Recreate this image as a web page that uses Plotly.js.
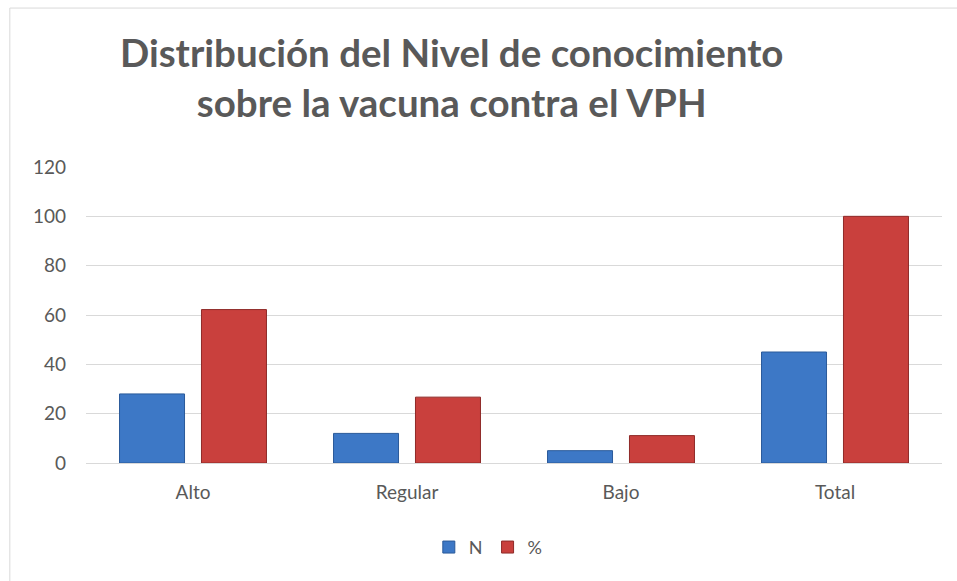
<!DOCTYPE html>
<html><head><meta charset="utf-8">
<script src="https://cdn.plot.ly/plotly-3.0.1.min.js"></script>
<style>html,body{margin:0;padding:0;background:#fff}#chart{width:957px;height:581px}</style>
</head><body><div id="chart"></div>
<script>
const categories = ["Alto", "Regular", "Bajo", "Total"];
const seriesN = [28, 12, 5, 45];
const seriesPct = [62.2, 26.7, 11.1, 100];
const yTicks = [0, 20, 40, 60, 80, 100, 120];
const titleText = "Distribución del Nivel de conocimiento<br>sobre la vacuna contra el VPH";

const data = [
  {type: "bar", name: "N", x: categories, y: seriesN,
   marker: {color: "#3d78c6", line: {color: "#2a5a9a", width: 1}}},
  {type: "bar", name: "%", x: categories, y: seriesPct,
   marker: {color: "#c9403d", line: {color: "#8e2a28", width: 1}}}
];
const layout = {
  width: 957, height: 581,
  paper_bgcolor: "#fff", plot_bgcolor: "#fff",
  margin: {l: 86, r: 15, t: 167, b: 118},
  font: {family: "Lato, sans-serif", color: "#595959", size: 19},
  title: {text: titleText, x: 0.472, xanchor: "center", y: 0.884, yanchor: "middle",
          font: {family: "Lato, sans-serif", size: 38.5, color: "#595959", weight: "bold"}},
  barmode: "group", bargap: 0.234, bargroupgap: 0.207,
  xaxis: {showline: true, linecolor: "#d9d9d9", linewidth: 1, ticks: "",
          tickfont: {size: 19, color: "#595959"}, ticklabelstandoff: 12},
  yaxis: {range: [0, 120], tickvals: yTicks, showgrid: true, gridcolor: "#d9d9d9", gridwidth: 1,
          zeroline: false, showline: false, tickfont: {size: 19, color: "#595959"}, ticklen: 0,
          ticklabelstandoff: 19},
  legend: {orientation: "h", x: 0.47, xanchor: "center", y: -0.285, yanchor: "middle",
           font: {size: 18, color: "#595959"}, itemwidth: 30},
  shapes: [{type: "rect", xref: "paper", yref: "paper", x0: -0.089, x1: 1.04, y0: -0.46, y1: 1.537,
            line: {color: "#d9d9d9", width: 1}}]
};
Plotly.newPlot("chart", data, layout, {displayModeBar: false});
</script></body></html>
